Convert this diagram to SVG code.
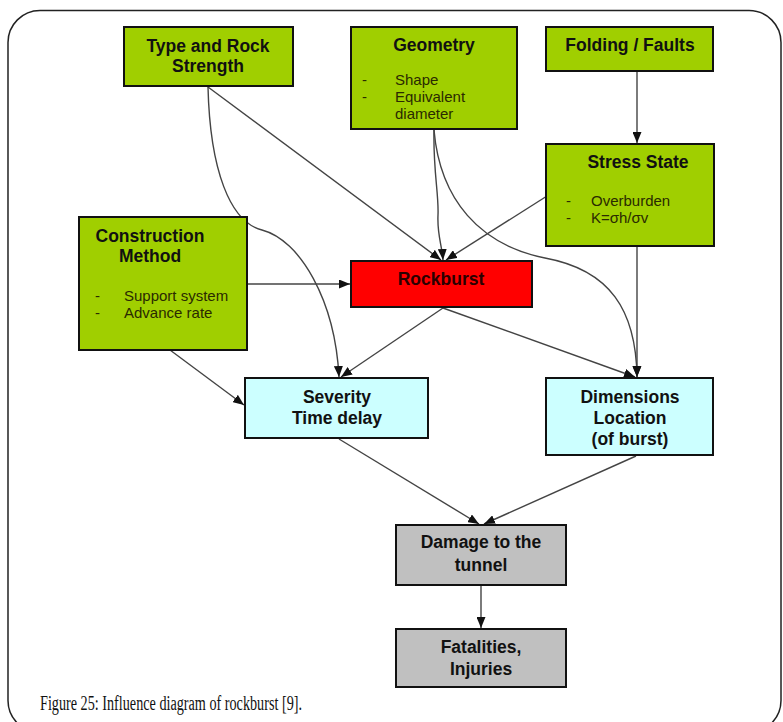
<svg xmlns="http://www.w3.org/2000/svg" width="783" height="722" viewBox="0 0 783 722">
  <style>
    .box { stroke: #111; stroke-width: 2; }
    .green { fill: #a0cf00; }
    .red { fill: #ff0000; }
    .cyan { fill: #ccffff; }
    .grey { fill: #c0c0c0; }
    .title { font-family: "Liberation Sans", Arial, sans-serif; font-weight: bold; font-size: 17.5px; fill: #111; text-anchor: middle; }
    .item { font-family: "Liberation Sans", Arial, sans-serif; font-size: 15px; fill: #2a2a00; }
    .link { fill: none; stroke: #444; stroke-width: 1.4; marker-end: url(#arrow); }
    .caption { font-family: "Liberation Serif", "Times New Roman", serif; font-size: 20px; fill: #111; }
  </style>
  <defs>
    <marker id="arrow" markerUnits="userSpaceOnUse" markerWidth="11" markerHeight="9" refX="11" refY="4.5" orient="auto">
      <path d="M0,0 L11,4.5 L0,9 z" fill="#111"/>
    </marker>
  </defs>

  <rect width="783" height="722" fill="#ffffff"/>
  <!-- page frame -->
  <rect x="8" y="10.5" width="773" height="722" rx="32" ry="32" fill="none" stroke="#222" stroke-width="1.5"/>

  <!-- connectors -->
  <g id="connectors">
    <line class="link" x1="208" y1="87" x2="441" y2="260"/>
    <path class="link" d="M208,87 C210,170 230,222 262,230 C300,240 335,300 339,377"/>
    <path class="link" d="M434,130 C433,170 439,195 438,215 C437,235 442,245 443,260"/>
    <path class="link" d="M434,130 C440,200 480,245 545,258 C610,270 636,310 637,377"/>
    <line class="link" x1="547" y1="196" x2="446" y2="260"/>
    <line class="link" x1="637" y1="71" x2="637" y2="143"/>
    <line class="link" x1="247" y1="284" x2="350" y2="284"/>
    <line class="link" x1="170" y1="350" x2="244" y2="405"/>
    <line class="link" x1="443" y1="308" x2="341" y2="377"/>
    <line class="link" x1="443" y1="308" x2="635" y2="377"/>
    <line class="link" x1="637" y1="246" x2="637" y2="377"/>
    <line class="link" x1="339" y1="439" x2="479" y2="524"/>
    <line class="link" x1="636" y1="456" x2="484" y2="524"/>
    <line class="link" x1="481" y1="586" x2="481" y2="628"/>
  </g>

  <!-- nodes -->
  <g id="type-rock-strength">
    <rect class="box green" x="124" y="27" width="169" height="59"/>
    <text class="title" x="208" y="52">Type and Rock</text>
    <text class="title" x="208" y="72">Strength</text>
  </g>

  <g id="geometry">
    <rect class="box green" x="351" y="27" width="166" height="102"/>
    <text class="title" x="434" y="51">Geometry</text>
    <text class="item" x="362" y="85">-</text>
    <text class="item" x="395" y="85">Shape</text>
    <text class="item" x="362" y="102">-</text>
    <text class="item" x="395" y="102">Equivalent</text>
    <text class="item" x="395" y="119">diameter</text>
  </g>

  <g id="folding-faults">
    <rect class="box green" x="546" y="27" width="167" height="44"/>
    <text class="title" x="630" y="51">Folding / Faults</text>
  </g>

  <g id="stress-state">
    <rect class="box green" x="546" y="144" width="168" height="102"/>
    <text class="title" x="638" y="168">Stress State</text>
    <text class="item" x="566" y="206">-</text>
    <text class="item" x="591" y="206">Overburden</text>
    <text class="item" x="566" y="223">-</text>
    <text class="item" x="591" y="223">K=σh/σv</text>
  </g>

  <g id="construction-method">
    <rect class="box green" x="79" y="217" width="168" height="133"/>
    <text class="title" x="150" y="242">Construction</text>
    <text class="title" x="150" y="262">Method</text>
    <text class="item" x="95" y="301">-</text>
    <text class="item" x="124" y="301">Support system</text>
    <text class="item" x="95" y="318">-</text>
    <text class="item" x="124" y="318">Advance rate</text>
  </g>

  <g id="rockburst">
    <rect class="box red" x="351" y="261" width="181" height="46"/>
    <text class="title" x="441" y="285" style="fill:#2a0000">Rockburst</text>
  </g>

  <g id="severity">
    <rect class="box cyan" x="245" y="378" width="183" height="60"/>
    <text class="title" x="337" y="403">Severity</text>
    <text class="title" x="337" y="424">Time delay</text>
  </g>

  <g id="dimensions">
    <rect class="box cyan" x="546" y="378" width="167" height="77"/>
    <text class="title" x="630" y="403">Dimensions</text>
    <text class="title" x="630" y="424">Location</text>
    <text class="title" x="630" y="445">(of burst)</text>
  </g>

  <g id="damage">
    <rect class="box grey" x="396" y="525" width="170" height="60"/>
    <text class="title" x="481" y="548">Damage to the</text>
    <text class="title" x="481" y="571">tunnel</text>
  </g>

  <g id="fatalities">
    <rect class="box grey" x="396" y="629" width="170" height="58"/>
    <text class="title" x="481" y="653">Fatalities,</text>
    <text class="title" x="481" y="675">Injuries</text>
  </g>

  <text class="caption" x="40" y="710" textLength="262" lengthAdjust="spacingAndGlyphs">Figure 25: Influence diagram of rockburst [9].</text>
</svg>
